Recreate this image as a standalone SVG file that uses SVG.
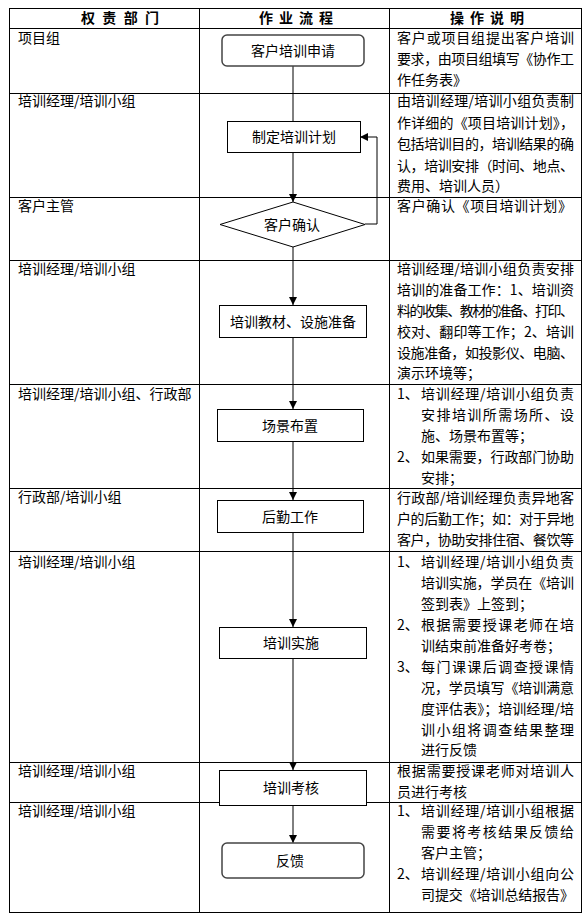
<svg xmlns="http://www.w3.org/2000/svg" width="585" height="916" viewBox="0 0 585 916">
<style>
text{font-family:"Noto Sans CJK SC","Liberation Sans",sans-serif;font-size:14px;fill:#000}
.h{font-weight:bold;text-anchor:middle}
.c{text-anchor:middle}
.grid{stroke:#000;stroke-width:1;fill:none}
.box{fill:#fff;stroke:#000;stroke-width:1}
.rbox{fill:#fff;stroke:#444;stroke-width:1.5}
.con{stroke:#000;stroke-width:1;fill:none}
</style>
<defs>
<marker id="arr" markerUnits="userSpaceOnUse" markerWidth="8" markerHeight="8" refX="8" refY="4" orient="auto">
<path d="M0,0 L8,4 L0,8 z" fill="#000"/>
</marker>
</defs>
<rect width="585" height="916" fill="#fff"/>
<g id="table" class="grid">
<rect x="9.5" y="8.5" width="572" height="904"/>
<line x1="199.5" y1="8" x2="199.5" y2="913"/>
<line x1="389.5" y1="8" x2="389.5" y2="913"/>
<line x1="9" y1="28.5" x2="582" y2="28.5"/>
<line x1="9" y1="93.5" x2="582" y2="93.5"/>
<line x1="9" y1="197.5" x2="582" y2="197.5"/>
<line x1="9" y1="260.5" x2="582" y2="260.5"/>
<line x1="9" y1="384.5" x2="582" y2="384.5"/>
<line x1="9" y1="488.5" x2="582" y2="488.5"/>
<line x1="9" y1="551.5" x2="582" y2="551.5"/>
<line x1="9" y1="762.5" x2="582" y2="762.5"/>
<line x1="9" y1="802.5" x2="582" y2="802.5"/>
</g>
<g id="header">
<text class="h" x="120" y="23" textLength="78">权 责 部 门</text>
<text class="h" x="296" y="23" textLength="74">作 业 流 程</text>
<text class="h" x="487" y="23" textLength="74">操 作 说 明</text>
</g>
<g id="dept">
<text x="18" y="43">项目组</text>
<text x="18" y="106">培训经理/培训小组</text>
<text x="18" y="211">客户主管</text>
<text x="18" y="274">培训经理/培训小组</text>
<text x="18" y="399">培训经理/培训小组、行政部</text>
<text x="18" y="502">行政部/培训小组</text>
<text x="18" y="567">培训经理/培训小组</text>
<text x="18" y="776">培训经理/培训小组</text>
<text x="18" y="816">培训经理/培训小组</text>
</g>
<g id="connectors">
<line class="con" x1="293" y1="66" x2="293" y2="121"/>
<line class="con" x1="293" y1="152" x2="293" y2="202" marker-end="url(#arr)"/>
<polyline class="con" points="365,224 377,224 377,137 360,137" marker-end="url(#arr)"/>
<line class="con" x1="293" y1="247" x2="293" y2="305" marker-end="url(#arr)"/>
<line class="con" x1="293" y1="337" x2="293" y2="409" marker-end="url(#arr)"/>
<line class="con" x1="293" y1="441" x2="293" y2="500" marker-end="url(#arr)"/>
<line class="con" x1="293" y1="532" x2="293" y2="627" marker-end="url(#arr)"/>
<line class="con" x1="293" y1="658" x2="293" y2="770" marker-end="url(#arr)"/>
<line class="con" x1="293" y1="805" x2="293" y2="843" marker-end="url(#arr)"/>
</g>
<g id="n1"><rect class="rbox" x="222" y="35" width="142" height="31" rx="5"/><text class="c" x="293" y="55.5">客户培训申请</text></g>
<g id="n2"><rect class="box" x="227.5" y="121.5" width="133" height="31"/><text class="c" x="294" y="142">制定培训计划</text></g>
<g id="n3"><polygon class="box" points="220,224.5 293,202 365,224.5 293,247"/><text class="c" x="292" y="229.5">客户确认</text></g>
<g id="n4"><rect class="box" x="219.5" y="305.5" width="147" height="32"/><text class="c" x="293" y="326.5">培训教材、设施准备</text></g>
<g id="n5"><rect class="box" x="217.5" y="409.5" width="146" height="32"/><text class="c" x="290" y="430.5">场景布置</text></g>
<g id="n6"><rect class="box" x="217.5" y="500.5" width="146" height="32"/><text class="c" x="290" y="521.5">后勤工作</text></g>
<g id="n7"><rect class="box" x="219.5" y="627.5" width="147" height="31"/><text class="c" x="291" y="648">培训实施</text></g>
<g id="n8"><rect class="box" x="219.5" y="770.5" width="147" height="35"/><text class="c" x="291" y="793">培训考核</text></g>
<g id="n9"><rect class="rbox" x="222" y="843" width="142" height="35" rx="5"/><text class="c" x="290" y="865.5">反馈</text></g>
<g id="desc">
<text x="397" y="43" textLength="177">客户或项目组提出客户培训</text>
<text x="397" y="64" textLength="177">要求，由项目组填写《协作工</text>
<text x="397" y="85">作任务表》</text>

<text x="397" y="106" textLength="177">由培训经理/培训小组负责制</text>
<text x="397" y="127.5" textLength="177">作详细的《项目培训计划》，</text>
<text x="397" y="149" textLength="177">包括培训目的，培训结果的确</text>
<text x="397" y="170.5" textLength="177">认，培训安排（时间、地点、</text>
<text x="397" y="191">费用、培训人员）</text>

<text x="397" y="211" textLength="175">客户确认《项目培训计划》</text>

<text x="397" y="274" textLength="177">培训经理/培训小组负责安排</text>
<text x="397" y="295" textLength="177">培训的准备工作：1、培训资</text>
<text x="397" y="316" textLength="177">料的收集、教材的准备、打印、</text>
<text x="397" y="337" textLength="177">校对、翻印等工作；2、培训</text>
<text x="397" y="358" textLength="177">设施准备，如投影仪、电脑、</text>
<text x="397" y="378">演示环境等；</text>

<text x="397" y="399">1、</text>
<text x="421" y="399" textLength="153">培训经理/培训小组负责</text>
<text x="421" y="420" textLength="153">安排培训所需场所、设</text>
<text x="421" y="441">施、场景布置等；</text>
<text x="397" y="462">2、</text>
<text x="421" y="462" textLength="153">如果需要，行政部门协助</text>
<text x="421" y="482.5">安排；</text>

<text x="397" y="503" textLength="177">行政部/培训经理负责异地客</text>
<text x="397" y="524" textLength="177">户的后勤工作；如：对于异地</text>
<text x="397" y="545" textLength="177">客户，协助安排住宿、餐饮等</text>

<text x="397" y="567">1、</text>
<text x="421" y="567" textLength="153">培训经理/培训小组负责</text>
<text x="421" y="588" textLength="153">培训实施，学员在《培训</text>
<text x="421" y="609">签到表》上签到；</text>
<text x="397" y="630">2、</text>
<text x="421" y="630" textLength="153">根据需要授课老师在培</text>
<text x="421" y="651">训结束前准备好考卷；</text>
<text x="397" y="672">3、</text>
<text x="421" y="672" textLength="153">每门课课后调查授课情</text>
<text x="421" y="693" textLength="153">况，学员填写《培训满意</text>
<text x="421" y="714" textLength="153">度评估表》；培训经理/培</text>
<text x="421" y="735" textLength="153">训小组将调查结果整理</text>
<text x="421" y="755">进行反馈</text>

<text x="397" y="776" textLength="177">根据需要授课老师对培训人</text>
<text x="397" y="797">员进行考核</text>

<text x="397" y="816">1、</text>
<text x="421" y="816" textLength="153">培训经理/培训小组根据</text>
<text x="421" y="837" textLength="153">需要将考核结果反馈给</text>
<text x="421" y="858">客户主管；</text>
<text x="397" y="879">2、</text>
<text x="421" y="879" textLength="153">培训经理/培训小组向公</text>
<text x="421" y="900" textLength="153">司提交《培训总结报告》</text>
</g>
</svg>
